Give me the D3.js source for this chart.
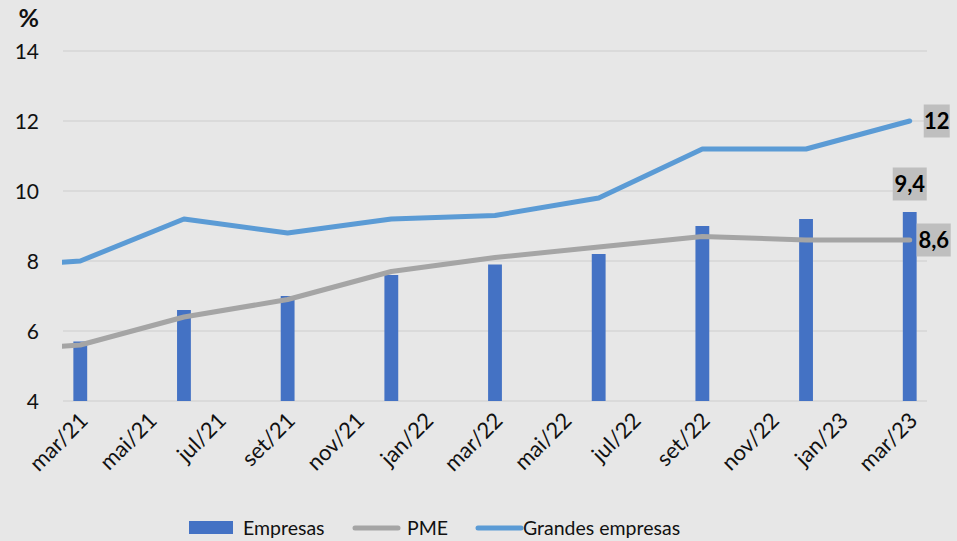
<!DOCTYPE html>
<html><head><meta charset="utf-8">
<script src="https://cdn.jsdelivr.net/npm/d3@7"></script>
<style>
html,body{margin:0;padding:0;background:#e7e7e7;}
svg{display:block;font-family:Lato, "Noto Sans", sans-serif;}
</style></head>
<body><svg id="c" width="957" height="541"></svg>
<script>
// ---- data ----
const months = ["mar/21","abr/21","mai/21","jun/21","jul/21","ago/21","set/21","out/21","nov/21","dez/21",
  "jan/22","fev/22","mar/22","abr/22","mai/22","jun/22","jul/22","ago/22","set/22","out/22","nov/22","dez/22",
  "jan/23","fev/23","mar/23"];
const tickLabels = ["mar/21","mai/21","jul/21","set/21","nov/21","jan/22","mar/22","mai/22","jul/22","set/22","nov/22","jan/23","mar/23"];
const yTicks = [4,6,8,10,12,14];
const quarters = ["dez/20","mar/21","jun/21","set/21","dez/21","mar/22","jun/22","set/22","dez/22","mar/23"];
const empresas = [null,5.7,6.6,7.0,7.6,7.9,8.2,9.0,9.2,9.4];
const pme = [5.4,5.6,6.4,6.9,7.7,8.1,8.4,8.7,8.6,8.6];
const grandes = [7.8,8.0,9.2,8.8,9.2,9.3,9.8,11.2,11.2,12.0];
const seriesNames = ["Empresas","PME","Grandes empresas"];
const labelEmpresas = "9,4", labelPME = "8,6", labelGrandes = "12";

// ---- layout ----
const svg = d3.select("#c");
const L = 63, R = 927, T = 51, B = 401;
const monthNames = ["jan","fev","mar","abr","mai","jun","jul","ago","set","out","nov","dez"];
const monthIndex = s => { const [m,y] = s.split("/"); return (+y-21)*12 + monthNames.indexOf(m) - 2; };

const xb = d3.scaleBand().domain(months).range([L,R]).paddingInner(0).paddingOuter(0);
const xl = d3.scaleLinear().domain([-0.5, months.length-0.5]).range([L,R]);
const y = d3.scaleLinear().domain([4,14]).range([B,T]);

svg.append("rect").attr("width",957).attr("height",541).attr("fill","#e7e7e7");

// gridlines
svg.append("g").selectAll("line").data(yTicks).join("line")
  .attr("x1",L).attr("x2",R).attr("y1",d=>y(d)).attr("y2",d=>y(d))
  .attr("stroke","#d6d6d6").attr("stroke-width",1.5);

// y axis labels
const yAxis = d3.axisLeft(y).tickValues(yTicks).tickSize(0).tickPadding(0).tickFormat(d=>d);
const yg = svg.append("g").attr("transform","translate(39,0)").call(yAxis);
yg.select(".domain").remove();
yg.selectAll("text").attr("font-size",21).attr("fill","#111").attr("font-family","Lato, sans-serif").attr("dy","0.35em");

svg.append("text").attr("x",39).attr("y",27).attr("text-anchor","end")
  .attr("font-size",25).attr("font-weight","bold").attr("fill","#111").text("%");

// x axis labels
const xAxis = d3.axisBottom(xb).tickValues(tickLabels).tickSize(0).tickPadding(0);
const xg = svg.append("g").attr("transform",`translate(0,${B})`).call(xAxis);
xg.select(".domain").remove();
xg.selectAll("text").attr("font-size",22).attr("fill","#111").attr("font-family","Lato, sans-serif")
  .attr("text-anchor","end").attr("dy",0).attr("y",0)
  .attr("transform","translate(9,21) rotate(-45)");

// bars
const bw = xb.bandwidth()*0.4;
const barData = quarters.map((q,i)=>({q, v:empresas[i]})).filter(d=>d.v!=null);
svg.append("g").selectAll("rect").data(barData).join("rect")
  .attr("x",d=>xb(d.q)+xb.bandwidth()/2-bw/2).attr("width",bw)
  .attr("y",d=>y(d.v)).attr("height",d=>y(4)-y(d.v))
  .attr("fill","#4472c4");

// clip for lines
svg.append("clipPath").attr("id","pc").append("rect").attr("x",L-1).attr("y",0).attr("width",R-L+40).attr("height",541);

const line = d3.line().x(d=>xl(monthIndex(d.q))).y(d=>y(d.v));
const lg = svg.append("g").attr("clip-path","url(#pc)");
lg.append("path").datum(quarters.map((q,i)=>({q,v:pme[i]})))
  .attr("d",line).attr("fill","none").attr("stroke","#a5a5a5").attr("stroke-width",5)
  .attr("stroke-linejoin","round").attr("stroke-linecap","round");
lg.append("path").datum(quarters.map((q,i)=>({q,v:grandes[i]})))
  .attr("d",line).attr("fill","none").attr("stroke","#5b9bd5").attr("stroke-width",5)
  .attr("stroke-linejoin","round").attr("stroke-linecap","round");

// data labels
function dlabel(cx, cy, w, txt){
  const g = svg.append("g");
  g.append("rect").attr("x",cx-w/2).attr("y",cy-16.5).attr("width",w).attr("height",33).attr("fill","#bfbfbf");
  g.append("text").attr("x",cx).attr("y",cy).attr("dy","0.36em").attr("text-anchor","middle")
    .attr("font-size",22).attr("font-weight","bold").attr("fill","#000").text(txt);
}
const last = quarters.length-1;
const xLast = xl(monthIndex(quarters[last]));
dlabel(xLast+27, y(grandes[last]), 26, labelGrandes);
dlabel(xLast, y(empresas[last])-28, 34, labelEmpresas);
dlabel(xLast+24, y(pme[last]), 34, labelPME);

// legend
const leg = svg.append("g").attr("font-size",19.5).attr("fill","#111");
leg.append("rect").attr("x",189).attr("y",521).attr("width",44).attr("height",13).attr("fill","#4472c4");
leg.append("text").attr("x",243).attr("y",528).attr("dy","0.35em").text(seriesNames[0]);
leg.append("line").attr("x1",355).attr("x2",398).attr("y1",528).attr("y2",528)
  .attr("stroke","#a5a5a5").attr("stroke-width",5).attr("stroke-linecap","round");
leg.append("text").attr("x",407).attr("y",528).attr("dy","0.35em").text(seriesNames[1]);
leg.append("line").attr("x1",478).attr("x2",521).attr("y1",528).attr("y2",528)
  .attr("stroke","#5b9bd5").attr("stroke-width",5).attr("stroke-linecap","round");
leg.append("text").attr("x",523).attr("y",528).attr("dy","0.35em").text(seriesNames[2]);
</script>
</body></html>
